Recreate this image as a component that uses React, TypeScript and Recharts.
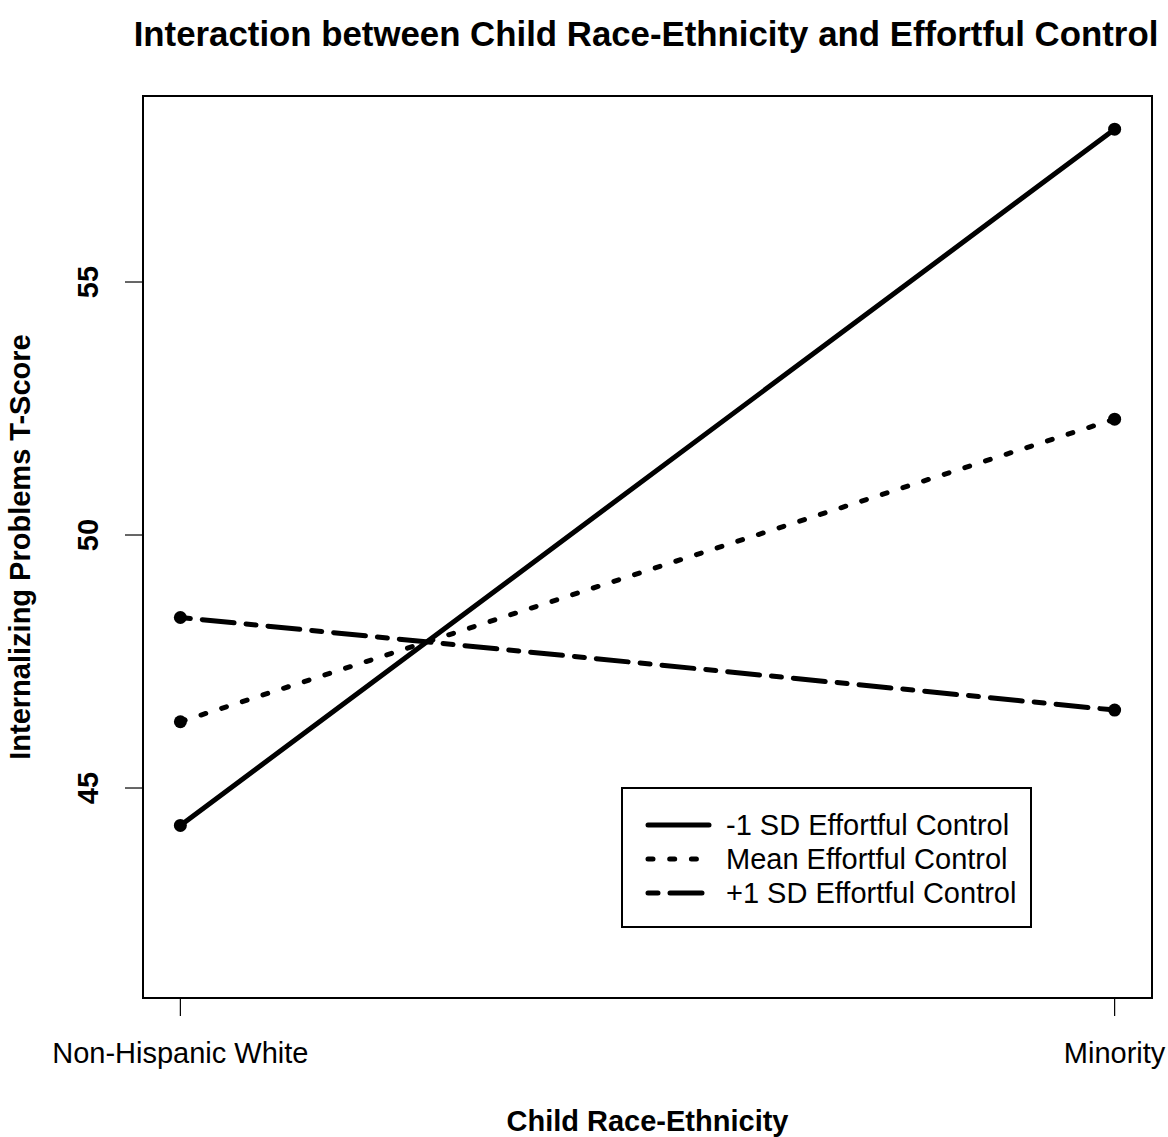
import React from "react";
import {
  LineChart,
  Line,
  XAxis,
  YAxis,
  ReferenceArea,
} from "recharts";

// Child race-ethnicity groups (x axis)
const GROUPS = ["Non-Hispanic White", "Minority"];

// Internalizing problems T-score, simple slopes
const MINUS_SD = [44.26, 58.02];
const MEAN_EC = [46.31, 52.29];
const PLUS_SD = [48.37, 46.54];

const Y_TICKS = [45, 50, 55];
const X_TICKS = [1, 2];

const SERIES = [
  { key: "minus", name: "-1 SD Effortful Control", dash: undefined },
  { key: "mean", name: "Mean Effortful Control", dash: "5 16.7" },
  { key: "plus", name: "+1 SD Effortful Control", dash: "10 12 32 12" },
];

const FONT = '"Liberation Sans", Arial, Helvetica, sans-serif';
const Y_DOMAIN = [40.85, 58.676];
const X_DOMAIN = [0.96, 2.04];

const data = GROUPS.map((g, i) => ({
  x: i + 1,
  group: g,
  minus: MINUS_SD[i],
  mean: MEAN_EC[i],
  plus: PLUS_SD[i],
}));

function YTick(props: any) {
  const { y, payload } = props;
  return (
    <text
      transform={`translate(98,${y}) rotate(-90)`}
      textAnchor="middle"
      fontFamily={FONT}
      fontSize={29}
      fontWeight="bold"
      fill="#000"
    >
      {payload.value}
    </text>
  );
}

function XTick(props: any) {
  const { x, payload } = props;
  return (
    <text
      x={x}
      y={1063}
      textAnchor="middle"
      fontFamily={FONT}
      fontSize={29}
      fill="#000"
    >
      {GROUPS[payload.value - 1]}
    </text>
  );
}

function LegendBox() {
  return (
    <svg width={412} height={142} style={{ display: "block" }}>
      <rect x={1} y={1} width={409} height={139} fill="#fff" stroke="#000" strokeWidth={2} />
      {SERIES.map((s, i) => (
        <g key={s.key}>
          <line
            x1={27}
            x2={88}
            y1={38 + i * 34}
            y2={38 + i * 34}
            stroke="#000"
            strokeWidth={5}
            strokeLinecap="round"
            strokeDasharray={s.dash}
          />
          <text
            x={105}
            y={48 + i * 34}
            fontFamily={FONT}
            fontSize={29}
            fill="#000"
          >
            {s.name}
          </text>
        </g>
      ))}
    </svg>
  );
}

export default function App() {
  return (
    <div
      style={{
        position: "absolute",
        left: 0,
        top: 0,
        width: 1168,
        height: 1137,
        background: "#fff",
        fontFamily: FONT,
        overflow: "hidden",
      }}
    >
      <LineChart
        width={1168}
        height={1137}
        data={data}
        margin={{ top: 96, right: 16, left: 0, bottom: 0 }}
        style={{ position: "absolute", left: 0, top: 0 }}
      >
        <XAxis
          type="number"
          dataKey="x"
          domain={X_DOMAIN}
          ticks={X_TICKS}
          height={139}
          tickSize={18}
          axisLine={false}
          tickLine={{ stroke: "#000", strokeWidth: 1.2 }}
          tick={<XTick />}
          interval={0}
          allowDataOverflow
          label={{
            value: "Child Race-Ethnicity",
            position: "insideBottom",
            offset: 6,
            style: { fontFamily: FONT, fontSize: 29, fontWeight: "bold", fill: "#000" },
          }}
        />
        <YAxis
          type="number"
          domain={Y_DOMAIN}
          ticks={Y_TICKS}
          width={143}
          tickSize={18}
          axisLine={false}
          tickLine={{ stroke: "#000", strokeWidth: 1.2 }}
          tick={<YTick />}
          interval={0}
          allowDataOverflow
          label={{
            value: "Internalizing Problems T-Score",
            angle: -90,
            position: "insideLeft",
            offset: 20,
            style: {
              fontFamily: FONT,
              fontSize: 29,
              fontWeight: "bold",
              fill: "#000",
              textAnchor: "middle",
            },
          }}
        />
        <ReferenceArea
          x1={X_DOMAIN[0]}
          x2={X_DOMAIN[1]}
          y1={Y_DOMAIN[0]}
          y2={Y_DOMAIN[1]}
          fill="none"
          stroke="#000"
          strokeWidth={2}
        />
        {SERIES.map((s) => (
          <Line
            key={s.key}
            type="linear"
            dataKey={s.key}
            name={s.name}
            stroke="#000"
            strokeWidth={5}
            strokeDasharray={s.dash}
            strokeLinecap="round"
            dot={{ r: 6.5, fill: "#000", stroke: "#000", strokeWidth: 0 }}
            activeDot={false}
            isAnimationActive={false}
          />
        ))}
      </LineChart>
      <div
        style={{
          position: "absolute",
          left: 120,
          width: 1052,
          top: 14,
          textAlign: "center",
          fontSize: 34.8,
          fontWeight: "bold",
          lineHeight: "40px",
          whiteSpace: "nowrap",
        }}
      >
        Interaction between Child Race-Ethnicity and Effortful Control
      </div>
      <div style={{ position: "absolute", left: 621, top: 787 }}>
        <LegendBox />
      </div>
    </div>
  );
}
